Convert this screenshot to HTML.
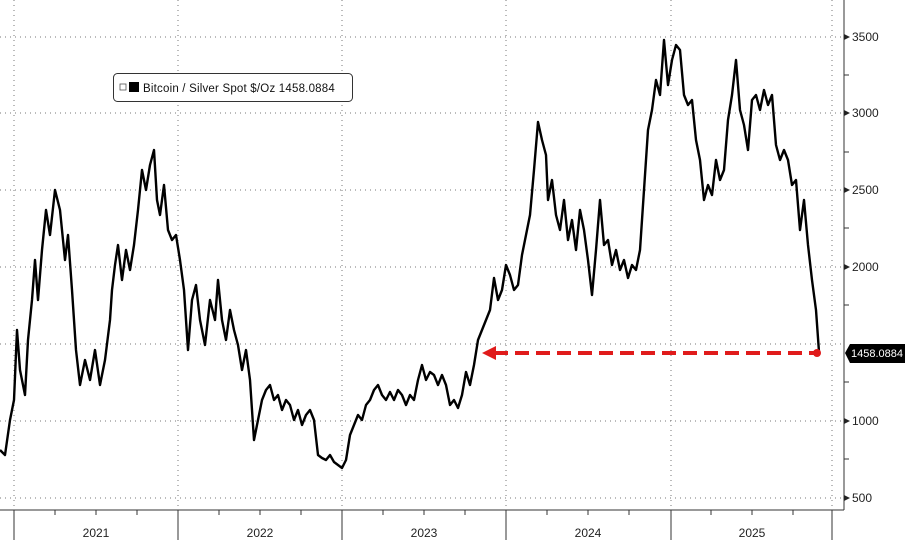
<!DOCTYPE html>
<html><head><meta charset="utf-8"><style>
body{margin:0;background:#fff;}
svg{display:block;font-family:"Liberation Sans","DejaVu Sans",sans-serif;}
</style></head><body>
<svg width="905" height="540" viewBox="0 0 905 540">
<rect width="905" height="540" fill="#fff"/>
<g stroke="#777" stroke-width="1" stroke-dasharray="1,4">
<line x1="0" y1="37" x2="844" y2="37"/><line x1="0" y1="113" x2="844" y2="113"/>
<line x1="0" y1="190" x2="844" y2="190"/><line x1="0" y1="267" x2="844" y2="267"/>
<line x1="0" y1="344" x2="844" y2="344"/><line x1="0" y1="421" x2="844" y2="421"/>
<line x1="0" y1="498" x2="844" y2="498"/>
<line x1="14" y1="0" x2="14" y2="510"/><line x1="178" y1="0" x2="178" y2="510"/>
<line x1="342" y1="0" x2="342" y2="510"/><line x1="506" y1="0" x2="506" y2="510"/>
<line x1="671" y1="0" x2="671" y2="510"/><line x1="832" y1="0" x2="832" y2="510"/>
</g>
<g stroke="#333" stroke-width="1">
<line x1="0" y1="510" x2="844" y2="510"/>
<line x1="844" y1="0" x2="844" y2="510"/>
<line x1="14" y1="510" x2="14" y2="540"/><line x1="178" y1="510" x2="178" y2="540"/>
<line x1="342" y1="510" x2="342" y2="540"/><line x1="506" y1="510" x2="506" y2="540"/>
<line x1="671" y1="510" x2="671" y2="540"/><line x1="832" y1="510" x2="832" y2="540"/>
<line x1="55" y1="510" x2="55" y2="515"/><line x1="96" y1="510" x2="96" y2="515"/><line x1="137" y1="510" x2="137" y2="515"/>
<line x1="219" y1="510" x2="219" y2="515"/><line x1="260" y1="510" x2="260" y2="515"/><line x1="301" y1="510" x2="301" y2="515"/>
<line x1="383" y1="510" x2="383" y2="515"/><line x1="424" y1="510" x2="424" y2="515"/><line x1="465" y1="510" x2="465" y2="515"/>
<line x1="547" y1="510" x2="547" y2="515"/><line x1="588" y1="510" x2="588" y2="515"/><line x1="629" y1="510" x2="629" y2="515"/>
<line x1="711" y1="510" x2="711" y2="515"/><line x1="752" y1="510" x2="752" y2="515"/><line x1="793" y1="510" x2="793" y2="515"/>
<line x1="844" y1="75" x2="849" y2="75"/><line x1="844" y1="152" x2="849" y2="152"/><line x1="844" y1="228" x2="849" y2="228"/>
<line x1="844" y1="305" x2="849" y2="305"/><line x1="844" y1="382" x2="849" y2="382"/><line x1="844" y1="459" x2="849" y2="459"/>
</g>
<g font-size="12" fill="#222">
<path d="M844 34l6 3-6 3zM844 110l6 3-6 3zM844 187l6 3-6 3zM844 264l6 3-6 3zM844 418l6 3-6 3zM844 495l6 3-6 3z"/>
<text x="852" y="41">3500</text><text x="852" y="117">3000</text><text x="852" y="194">2500</text>
<text x="852" y="271">2000</text><text x="852" y="425">1000</text><text x="852" y="502">500</text>
<text x="96" y="537" text-anchor="middle">2021</text><text x="260" y="537" text-anchor="middle">2022</text>
<text x="424" y="537" text-anchor="middle">2023</text><text x="588" y="537" text-anchor="middle">2024</text>
<text x="752" y="537" text-anchor="middle">2025</text>
</g>
<polyline fill="none" stroke="#000" stroke-width="2.4" stroke-linejoin="round" points="0,450 5,455 10,420 14,400 17,330 20,370 25,395 28,340 32,300 35,260 38,300 42,250 46,210 50,235 55,190 60,210 65,260 68,235 72,290 76,350 80,385 85,360 90,380 95,350 100,385 105,360 110,320 112,290 115,265 118,245 122,280 126,250 130,270 134,245 138,210 142,170 146,190 150,165 154,150 157,200 160,215 164,185 168,230 172,240 176,235 180,260 184,290 188,350 192,300 196,285 200,320 205,345 210,300 215,320 218,280 222,320 226,340 230,310 234,330 238,345 242,370 246,350 250,380 254,440 258,420 262,400 266,390 270,385 274,400 278,395 282,410 286,400 290,405 294,420 298,410 302,425 306,415 310,410 314,420 318,455 322,458 326,460 330,455 334,462 338,465 342,468 346,460 350,435 354,425 358,415 362,420 366,405 370,400 374,390 378,385 382,395 386,400 390,392 394,400 398,390 402,395 406,405 410,395 414,400 418,380 422,365 426,380 430,372 434,375 438,385 442,375 446,385 450,405 454,400 458,408 462,395 466,372 470,385 474,365 478,340 482,330 486,320 490,310 494,278 498,300 502,290 506,265 510,275 514,290 518,285 522,255 526,235 530,215 534,170 538,122 542,140 546,155 548,200 552,180 556,215 560,230 564,200 568,240 572,220 576,250 580,210 584,230 588,260 592,295 596,250 600,200 604,245 608,240 612,265 616,250 620,270 624,260 628,278 632,265 636,270 640,250 644,190 648,130 652,110 656,80 660,95 664,40 668,85 672,60 676,45 680,50 684,95 688,105 692,100 696,140 700,160 704,200 708,185 712,195 716,160 720,180 724,170 728,120 732,95 736,60 740,110 744,125 748,150 752,100 756,95 760,110 764,90 768,105 772,95 776,145 780,160 784,150 788,160 792,185 796,180 800,230 804,200 808,245 812,280 816,310 819,352"/>
<line x1="494" y1="353" x2="817" y2="353" stroke="#e01b1b" stroke-width="4" stroke-dasharray="14,7"/>
<path d="M482 353l14-7v14z" fill="#e01b1b"/>
<circle cx="817" cy="353" r="4" fill="#e01b1b"/>
<path d="M845 353l5-9h55v19h-55z" fill="#000"/>
<text x="851" y="357" font-size="11" fill="#fff">1458.0884</text>
<rect x="113.5" y="73.5" width="239" height="28" rx="4" fill="#fff" stroke="#333"/>
<rect x="120" y="84" width="6" height="6" fill="none" stroke="#555" stroke-width="0.8"/>
<rect x="129" y="82" width="10" height="10" fill="#000"/>
<text x="143" y="92" font-size="11.5" fill="#111" letter-spacing="0.2">Bitcoin / Silver Spot $/Oz  1458.0884</text>
</svg>
</body></html>
